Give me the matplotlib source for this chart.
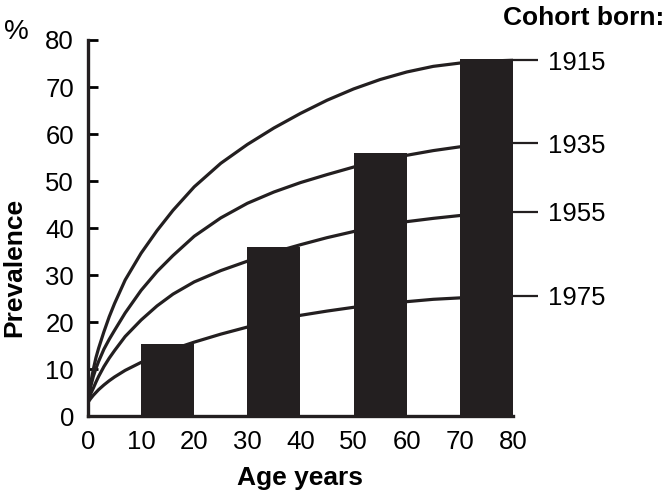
import numpy as np
import matplotlib
matplotlib.use("Agg")
import matplotlib.pyplot as plt

plt.rcParams['font.family'] = ['Liberation Sans', 'DejaVu Sans']

# bars: prevalence by age decade
bar_left = [10, 30, 50, 70]
bar_height = [15.5, 36, 56, 76]

# cohort curves
ages = [0, 0.5, 1, 1.5, 2, 3, 4, 5, 7, 10, 13, 16, 20, 25, 30, 35, 40, 45, 50, 55, 60, 65, 70, 75, 80]
cohorts = ['1915', '1935', '1955', '1975']
c1915 = [3, 7, 10, 12.5, 14.5, 18, 21.2, 24, 29, 34.7, 39.5, 43.8, 48.8, 53.8, 57.8, 61.3, 64.4, 67.2, 69.6, 71.6, 73.2, 74.4, 75.1, 75.5, 75.7]
c1935 = [3, 6.3, 8.5, 10.2, 11.7, 14.3, 16.4, 18.3, 22, 26.8, 30.8, 34.2, 38.3, 42.2, 45.3, 47.7, 49.7, 51.4, 53, 54.4, 55.5, 56.5, 57.3, 57.8, 58.1]
c1955 = [3, 4.8, 6, 7.3, 8.5, 10.6, 12.4, 14, 17, 20.5, 23.5, 26, 28.6, 31, 33, 34.9, 36.5, 38, 39.3, 40.5, 41.4, 42.1, 42.7, 43.2, 43.5]
c1975 = [3, 3.8, 4.5, 5.1, 5.7, 6.7, 7.6, 8.4, 9.8, 11.5, 13, 14.3, 15.8, 17.5, 19, 20.4, 21.5, 22.4, 23.2, 23.9, 24.4, 24.9, 25.2, 25.5, 25.7]
curves = [c1915, c1935, c1955, c1975]

xticks = [0, 10, 20, 30, 40, 50, 60, 70, 80]
yticks = [0, 10, 20, 30, 40, 50, 60, 70, 80]

ink = '#231f20'

fig = plt.figure(figsize=(6.66, 4.95), dpi=100)
ax = fig.add_axes([0.1321, 0.1586, 0.6381, 0.7606])

for c in curves:
    ax.plot(ages, c, color=ink, lw=2.3, zorder=2, solid_capstyle='round',
            solid_joinstyle='round')

ax.bar(bar_left, bar_height, width=10, align='edge', color=ink, zorder=3)

ax.set_xlim(0, 80)
ax.set_ylim(0, 80)
ax.set_xticks(xticks)
ax.set_yticks(yticks)
ax.tick_params(axis='x', length=0, pad=10, labelsize=18.5)
ax.tick_params(axis='y', direction='in', length=7, width=2, pad=10, labelsize=18.5)
for s in ['top', 'right']:
    ax.spines[s].set_visible(False)
for s in ['left', 'bottom']:
    ax.spines[s].set_linewidth(2.4)
    ax.spines[s].set_color(ink)

# right-hand cohort labels at curve ends
ax2 = ax.twinx()
ax2.set_ylim(0, 80)
ax2.set_yticks([c[-1] for c in curves])
ax2.set_yticklabels(cohorts)
ax2.tick_params(axis='y', direction='out', length=18, width=1.6, pad=7,
                labelsize=18.5, color=ink)
for s in ax2.spines.values():
    s.set_visible(False)

fig.text(0.022, 0.46, 'Prevalence', rotation=90, ha='center', va='center',
         fontsize=19, fontweight='bold')
fig.text(0.45, 0.034, 'Age years', ha='center', va='center',
         fontsize=19, fontweight='bold')
fig.text(0.997, 0.963, 'Cohort born:', ha='right', va='center',
         fontsize=19, fontweight='bold')
fig.text(0.025, 0.935, '%', ha='center', va='center', fontsize=20)

fig.savefig('out.png', dpi=100)
